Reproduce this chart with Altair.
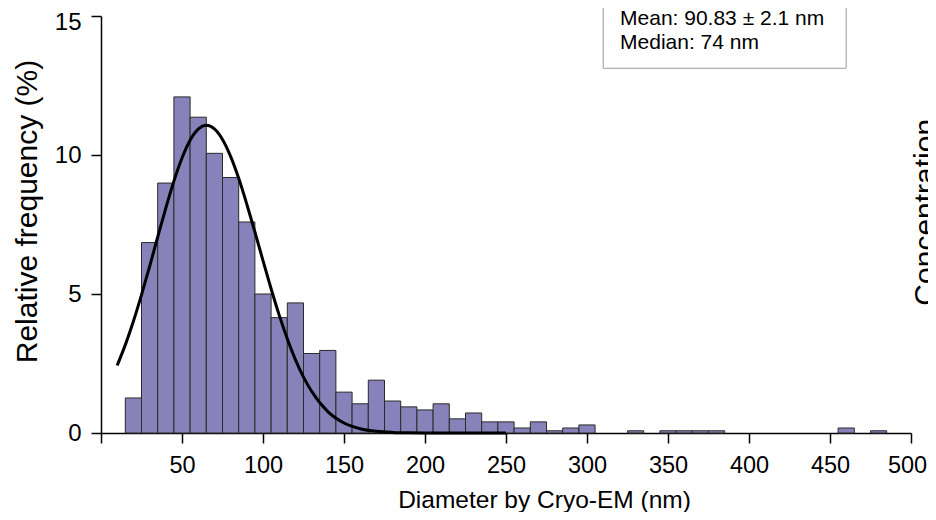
import altair as alt
import pandas as pd

# Histogram bins (centre of 10 nm bins) and relative frequency (%)
bin_centers = [20, 30, 40, 50, 60, 70, 80, 90, 100, 110, 120, 130, 140, 150,
               160, 170, 180, 190, 200, 210, 220, 230, 240, 250, 260, 270,
               280, 290, 300, 330, 350, 360, 370, 380, 460, 480]
rel_freq = [1.26, 6.85, 8.99, 12.09, 11.36, 10.06, 9.19, 7.59, 5.00, 4.15,
            4.68, 2.86, 2.97, 1.47, 1.05, 1.90, 1.15, 0.94, 0.83, 1.05, 0.51,
            0.72, 0.40, 0.40, 0.18, 0.40, 0.08, 0.18, 0.29, 0.08, 0.08, 0.08,
            0.08, 0.08, 0.18, 0.08]
bin_width = 10

# Gaussian fit curve
fit_x = [10, 15, 20, 25, 30, 35, 40, 45, 50, 55, 60, 65, 70, 75, 80, 85, 90,
         95, 100, 105, 110, 115, 120, 125, 130, 140, 150, 160, 170, 180, 190,
         200, 225, 250]
fit_y = [2.43, 3.17, 4.02, 4.97, 5.99, 7.05, 8.09, 9.06, 9.89, 10.53, 10.93,
         11.07, 10.94, 10.56, 9.95, 9.16, 8.23, 7.23, 6.20, 5.19, 4.24, 3.39,
         2.64, 2.01, 1.50, 0.77, 0.36, 0.155, 0.06, 0.021, 0.006, 0.002, 0.0,
         0.0]

x_ticks = [0, 50, 100, 150, 200, 250, 300, 350, 400, 450, 500]
y_ticks = [0, 5, 10, 15]
x_title = "Diameter by Cryo-EM (nm)"
y_title = "Relative frequency (%)"
stats_lines = ["Mean: 90.83 \u00b1 2.1 nm", "Median: 74 nm"]
side_title = "Concentration"

FONT = "Liberation Sans"

bars_df = pd.DataFrame({
    "x": [c - bin_width / 2 for c in bin_centers],
    "x2": [c + bin_width / 2 for c in bin_centers],
    "y": rel_freq,
})
fit_df = pd.DataFrame({"x": fit_x, "y": fit_y})
box_df = pd.DataFrame({"x": [310], "x2": [460], "y": [13.12], "y2": [16.5]})
stats_df = pd.DataFrame({"x": [320.4, 320.4], "y": [14.68, 13.80], "t": stats_lines})
side_df = pd.DataFrame({"x": [515], "y": [7.94], "t": [side_title]})

xscale = alt.Scale(domain=[0, 500], nice=False, zero=False)
yscale = alt.Scale(domain=[0, 15], nice=False)

xaxis = alt.Axis(
    values=x_ticks, labelExpr="datum.value == 0 ? '' : datum.label",
    title=x_title, titleX=443, titleY=74.5, titleBaseline="alphabetic",
    titleAlign="center", titleFont=FONT, titleFontSize=24.5,
    titleFontWeight="normal", titleColor="black",
    labelFont=FONT, labelFontSize=23.5, labelColor="black", labelPadding=10,
    labelOffset={"condition": {"test": "datum.value == 500", "value": -4},
                 "value": 0},
    tickSize=10, tickWidth=1.5, tickColor="black",
    domainWidth=1.5, domainColor="black", grid=False, labelFlush=False,
)
yaxis = alt.Axis(
    values=y_ticks, title=y_title, titleX=-64.5, titleY=195, titleAngle=270,
    titleBaseline="alphabetic", titleAlign="center", titleFont=FONT,
    titleFontSize=30, titleFontWeight="normal", titleColor="black",
    labelFont=FONT, labelFontSize=24, labelColor="black", labelPadding=10,
    labelOffset={"condition": {"test": "datum.value == 15", "value": 6},
                 "value": 0},
    tickSize=10, tickWidth=1.5, tickColor="black",
    domainWidth=1.5, domainColor="black", grid=False, labelFlush=False,
)


def X(field="x"):
    return alt.X(f"{field}:Q", scale=xscale, axis=xaxis)


def Y(field="y"):
    return alt.Y(f"{field}:Q", scale=yscale, axis=yaxis)


bars = alt.Chart(bars_df).mark_bar(
    color="#8882ba", stroke="#2a2a2a", strokeWidth=1, opacity=1
).encode(x=X(), x2="x2:Q", y=Y(), y2=alt.datum(0))

fit_line = alt.Chart(fit_df).mark_line(
    color="black", strokeWidth=3, interpolate="monotone"
).encode(x=X(), y=Y())

box = alt.Chart(box_df).mark_rect(
    fill="white", stroke="#9a9a9a", strokeWidth=1
).encode(x=X(), x2="x2:Q", y=Y(), y2="y2:Q")

stats = alt.Chart(stats_df).mark_text(
    align="left", baseline="alphabetic", font=FONT, fontSize=21, color="black"
).encode(x=X(), y=Y(), text="t:N")

side = alt.Chart(side_df).mark_text(
    align="center", baseline="alphabetic", angle=270, font=FONT, fontSize=30,
    color="black"
).encode(x=X(), y=Y(), text="t:N")

chart = alt.layer(bars, fit_line, box, stats, side).properties(
    width=810, height=417,
    padding={"left": 93, "top": 8, "right": 17, "bottom": 79},
    autosize=alt.AutoSizeParams(type="none"),
).configure_view(strokeWidth=0)

chart.save("out.html", embed_options={"renderer": "svg", "actions": False})
